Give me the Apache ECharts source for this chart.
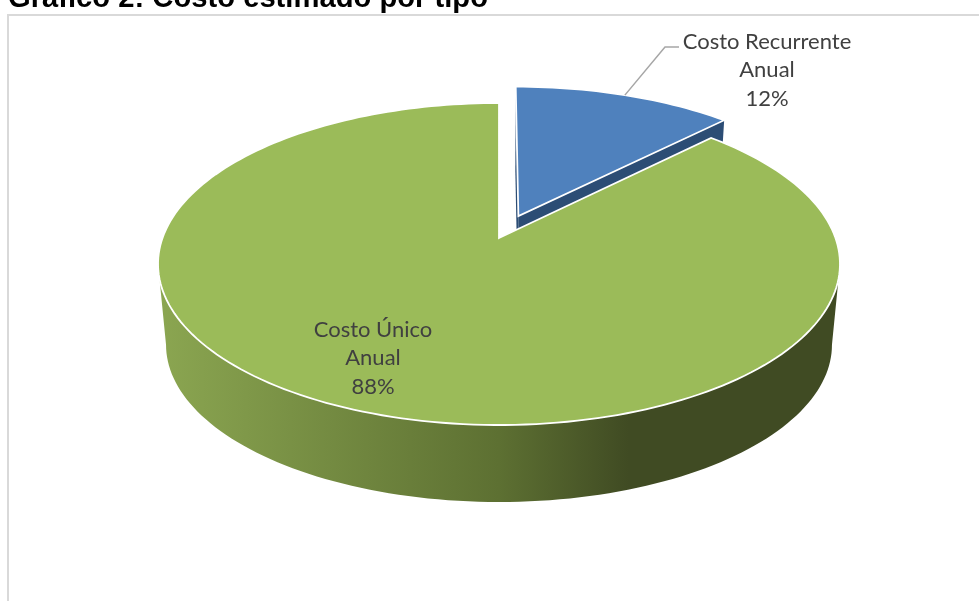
<!DOCTYPE html>
<html>
<head>
<meta charset="utf-8">
<style>
  html, body { margin: 0; padding: 0; background: #ffffff; }
  #chart { width: 979px; height: 601px; }
</style>
<script src="https://cdn.jsdelivr.net/npm/echarts@6/dist/echarts.min.js"></script>
</head>
<body>
<div id="chart"></div>
<script>
// datos del grafico
var categories = ['Costo Recurrente\nAnual', 'Costo Único\nAnual'];
var values = [12.4, 87.6];
var chartTitle = 'Gráfico 2: Costo estimado por tipo';

// colores y separacion de cada porcion
var topColors = ['#4f81bd', '#9bbb59'];
var wallColors = ['#2c4d75', '#404b23'];
var explode = [0.155, 0];

// proyeccion en perspectiva del disco (cara superior e inferior)
var cx = 499, cyTop = 238, cyBottom = 319.4;
var rx = 336.5, ry = 156.8, persp = 0.1615, bottomScale = 0.9765;

var total = values.reduce(function (a, b) { return a + b; }, 0);

function project(u, v, bottom) {
    var s = bottom ? bottomScale : 1;
    var w = 1 + persp * v;
    return [cx + rx * s * u / w, (bottom ? cyBottom : cyTop) - ry * s * v / w];
}

function rimPoint(deg, off, bottom) {
    var a = deg * Math.PI / 180;
    return project(Math.sin(a) + off[0], Math.cos(a) + off[1], bottom);
}

function arcPoints(from, to, off, bottom) {
    var pts = [];
    var n = Math.max(2, Math.ceil(Math.abs(to - from) / 1.5));
    for (var i = 0; i <= n; i++) {
        pts.push(rimPoint(from + (to - from) * i / n, off, bottom));
    }
    return pts;
}

function renderSlice(params, api) {
    var i = params.dataIndex;
    var before = values.slice(0, i).reduce(function (a, b) { return a + b; }, 0);
    var start = before / total * 360;
    var end = start + api.value(1) / total * 360;
    var mid = (start + end) / 2 * Math.PI / 180;
    var off = [explode[i] * Math.sin(mid), explode[i] * Math.cos(mid)];
    var apexTop = project(off[0], off[1], false);
    var apexBottom = project(off[0], off[1], true);
    var children = [];

    // paredes de los cortes
    [start, end].forEach(function (deg) {
        children.push({
            type: 'polygon',
            shape: { points: [apexTop, rimPoint(deg, off, false), rimPoint(deg, off, true), apexBottom] },
            style: { fill: wallColors[i] }
        });
    });

    // pared frontal, desde el punto mas ancho de la elipse
    var side = Math.acos(-persp) * 180 / Math.PI;
    var wallFrom = Math.max(start, side), wallTo = Math.min(end, 360 - side);
    if (wallTo > wallFrom) {
        var wall = arcPoints(wallFrom, wallTo, off, false).concat(arcPoints(wallTo, wallFrom, off, true));
        children.push({
            type: 'polygon',
            shape: { points: wall },
            style: {
                fill: new echarts.graphic.LinearGradient(0, 0, 1, 0, [
                    { offset: 0, color: '#8ba651' },
                    { offset: 0.5, color: '#5d7032' },
                    { offset: 0.69, color: '#404b23' },
                    { offset: 1, color: '#404b23' }
                ])
            }
        });
    }

    // cara superior
    children.push({
        type: 'polygon',
        shape: { points: [apexTop].concat(arcPoints(start, end, off, false)) },
        style: { fill: topColors[i], stroke: '#ffffff', lineWidth: 1.8, lineJoin: 'miter' }
    });

    // etiqueta
    var labelPos = [[767, 70], [373, 358]][i];
    var pct = Math.round(api.value(1) / total * 100) + '%';
    if (i === 0) {
        var rim = rimPoint((start + end) / 2, off, false);
        children.push({
            type: 'polyline',
            shape: { points: [rim, [665, 47], [679, 47]] },
            style: { stroke: '#a6a6a6', lineWidth: 1.5, fill: null }
        });
    }
    children.push({
        type: 'text',
        x: labelPos[0],
        y: labelPos[1],
        style: {
            text: categories[i] + '\n' + pct,
            fill: '#404040',
            font: '22px Lato',
            lineHeight: 28.5,
            align: 'center',
            verticalAlign: 'middle'
        }
    });

    return { type: 'group', children: children };
}

var myChart = echarts.init(document.getElementById('chart'));
myChart.setOption({
    animation: false,
    backgroundColor: '#ffffff',
    title: {
        text: chartTitle,
        left: 8,
        top: -16,
        padding: 0,
        textStyle: { fontFamily: 'Liberation Sans', fontWeight: 'bold', fontSize: 29.2, color: '#000000' }
    },
    graphic: [{
        type: 'polyline',
        silent: true,
        shape: { points: [[8, 601], [8, 15], [979, 15]] },
        style: { stroke: '#d9d9d9', lineWidth: 2, fill: null }
    }],
    series: [{
        type: 'custom',
        coordinateSystem: 'none',
        silent: true,
        clip: false,
        data: values.map(function (v, i) { return [i, v]; }),
        renderItem: renderSlice
    }]
});
window.addEventListener('resize', function () {
    myChart.resize();
});
</script>
</body>
</html>
